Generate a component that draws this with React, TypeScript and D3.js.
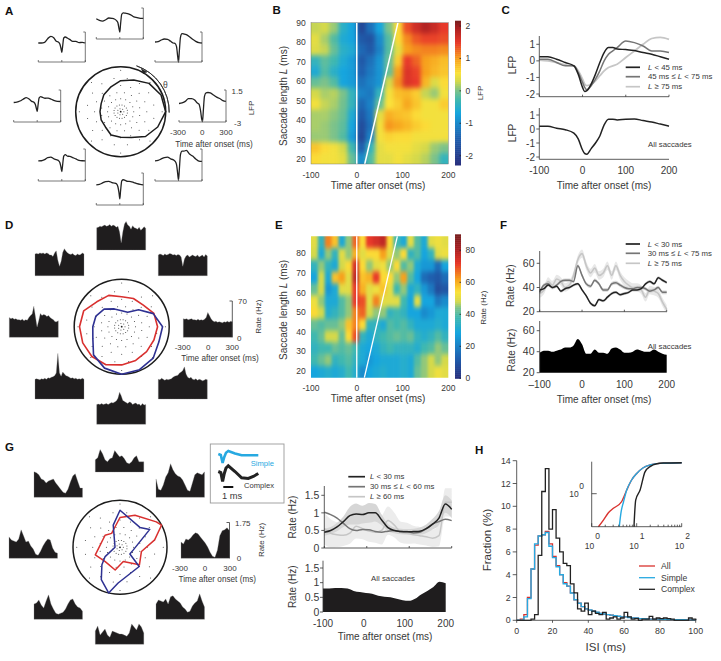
import React from 'react';
import * as d3 from 'd3';

const FONT = '"Liberation Sans", Arial, sans-serif';
const INK = '#383838';

// ---------- shared polar dots ----------
const DOT_RADII = [0.07, 0.15, 0.29, 0.43, 0.58, 0.75, 0.92];
const DOT_COUNTS = [7, 16, 16, 16, 16, 16, 8];
const DIRS16 = [0, 22.5, 45, 67.5, 90, 112.5, 135, 157.5, 180, 202.5, 225, 247.5, 270, 292.5, 315, 337.5];

// ---------- panel A ----------
const LFP_T = [-300, -260, -220, -180, -140, -100, -70, -45, -25, -10, 0, 10, 25, 45, 70, 100, 140, 180, 220, 260, 300];
const LFP_TOP = [-0.05, -0.3, -0.4, -0.2, 0.05, 0, -0.1, -0.3, -0.6, -1.5, -2, -0.8, 0.6, 0.8, 0.75, 0.7, 0.5, 0.2, 0.1, 0, 0];
const LFP_TL = [-0.15, -0.15, -0.05, 0.5, 0.85, 0.6, 0.1, 0.0, -0.3, -1, -1.55, -0.7, 0.6, 0.75, 0.6, 0.4, 0.1, 0.1, -0.1, -0.05, -0.15];
const LFP_TR = [0, 0.05, 0.3, 0.45, 0.4, 0.1, -0.15, -0.2, -0.7, -2.2, -3, -1.5, 0.7, 1.25, 1.2, 1.1, 0.8, 0.4, 0.1, -0.1, -0.15];
const LFP_L = [-0.26, -0.2, -0.05, 0.2, 0.43, 0.2, -0.1, -0.2, -0.5, -1.1, -1.5, -0.7, 0.4, 0.57, 0.45, 0.34, 0.35, 0.2, 0, -0.1, -0.12];
const LFP_R = [-0.4, -0.3, -0.1, 0.3, 0.3, 0.1, -0.3, -0.5, -1.4, -2.6, -2.95, -1.5, 0.6, 1.1, 1.15, 1.1, 0.8, 0.5, 0.3, 0, -0.1];
const LFP_BL = [-0.16, -0.15, 0, 0.3, 0.36, 0.1, 0, -0.1, -0.4, -1.1, -1.67, -0.8, 0.5, 0.7, 0.5, 0.46, 0.3, 0.1, -0.1, -0.15, -0.16];
const LFP_BR = [-0.16, -0.1, 0.1, 0.3, 0.36, 0.1, 0, -0.2, -0.7, -2, -2.85, -1.5, 0.7, 1.2, 1.2, 1.3, 0.8, 0.5, 0.1, -0.2, -0.25];
const LFP_B = [-0.16, -0.1, 0.1, 0.3, 0.32, 0.15, 0.08, 0, -0.4, -1.3, -2.15, -1, 0.4, 0.55, 0.45, 0.32, 0.3, 0.15, 0, -0.1, -0.16];
const A_RADII = [1, 0.97, 0.89, 0.76, 0.69, 0.59, 0.53, 0.47, 0.46, 0.47, 0.48, 0.56, 0.57, 0.62, 0.78, 0.89];

// ---------- panel B ----------
const B_COLS = [-90, -70, -50, -30, -10, 10, 30, 50, 70, 90, 110, 130, 150, 170, 190];
const B_ROWS = [88, 82, 76, 70, 64, 58, 52, 46, 40, 34, 28, 22, 18];
const B_GRID = [
  [0.25, 0.3, 0.1, -0.5, -0.7, -1.9, -1.3, -0.7, 0.0, 0.6, 1.4, 1.7, 1.9, 1.75, 1.5],
  [0.4, 0.15, -0.2, -0.6, -0.7, -1.6, -1.7, -1.0, -0.2, 0.6, 1.1, 1.35, 1.45, 1.45, 1.4],
  [0.35, 0.25, -0.1, -0.5, -0.6, -1.4, -1.6, -1.1, -0.2, 0.4, 1.0, 1.1, 1.15, 1.15, 1.1],
  [-0.4, -0.15, -0.3, -0.6, -0.8, -1.6, -1.3, -0.9, -0.1, 0.7, 1.5, 1.3, 1.0, 0.9, 0.8],
  [-0.6, -0.2, -0.5, -0.7, -0.8, -1.5, -1.2, -0.9, -0.1, 1.0, 1.6, 1.45, 1.0, 0.85, 0.75],
  [-0.1, 0.0, -0.2, -0.7, -0.8, -1.3, -1.1, -0.9, 0.3, 1.1, 1.6, 1.5, 0.85, 0.35, 0.6],
  [0.3, 0.15, 0.2, 0.0, -0.4, -1.1, -1.2, -0.4, 0.5, 0.8, 0.85, 0.7, 0.25, 0.1, 0.5],
  [0.5, 0.25, 0.15, -0.05, -0.4, -1.4, -1.1, -0.1, 0.55, 0.7, 0.95, 0.75, 0.5, 0.5, 0.7],
  [0.15, 0.15, 0.05, -0.1, -0.6, -1.6, -1.2, 0.4, 0.9, 0.8, 0.75, 0.6, 0.5, 0.5, 0.5],
  [0.15, 0.1, 0.0, -0.15, -0.7, -1.8, -1.3, 0.5, 1.05, 0.95, 0.85, 0.7, 0.6, 0.5, 0.5],
  [0.1, 0.1, 0.0, -0.2, -0.8, -1.9, -1.1, 0.5, 0.65, 0.6, 0.6, 0.5, 0.5, 0.5, 0.5],
  [0.75, 0.6, 0.5, 0.3, -0.3, -1.5, -0.4, 0.4, 0.5, 0.5, 0.5, 0.4, 0.3, 0.1, 0.0],
  [0.6, 0.5, 0.5, 0.4, -0.1, -1.0, -0.2, 0.4, 0.4, 0.5, 0.4, 0.3, 0.2, 0.0, -0.4],
];
const B_STOPS = [-2.3, -1.5, -0.7, -0.3, 0, 0.3, 0.55, 1, 1.5, 2, 2.17];
const JET = ['#27307f', '#1f5fae', '#16a5de', '#3fb8b0', '#7cc28a', '#d5d94a', '#fbe23a', '#f7a11c', '#e8392a', '#a51f22', '#7a1f1f'];
const B_BAR_TICKS = [2, 1, 0, -1, -2];

// ---------- panel C ----------
const C_T = [-100, -80, -60, -40, -20, -10, 0, 5, 10, 20, 30, 40, 50, 60, 70, 80, 100, 120, 140, 160, 180, 200];
const C_SHORT = [0.25, 0.25, 0.1, -0.1, -0.3, -0.8, -1.6, -1.85, -1.8, -1.4, -0.8, -0.1, 0.5, 0.8, 0.8, 0.72, 0.68, 0.62, 0.5, 0.4, 0.25, 0.1];
const C_MID = [0.1, 0.1, -0.1, -0.3, -0.3, -0.7, -1.3, -1.6, -1.75, -1.5, -1.1, -0.6, 0, 0.4, 0.6, 0.8, 1.2, 1.1, 0.9, 0.6, 0.6, 0.5];
const C_LONG = [0.05, 0, -0.1, -0.25, -0.3, -0.6, -1.1, -1.4, -1.5, -1.4, -1.2, -0.9, -0.6, -0.4, -0.3, -0.2, 0.2, 0.6, 1.0, 1.35, 1.42, 1.3];
const C_ALL = [0.2, 0.2, 0.05, -0.05, -0.3, -0.7, -1.5, -1.75, -1.8, -1.4, -1, -0.5, 0.3, 0.7, 0.7, 0.65, 0.7, 0.72, 0.6, 0.5, 0.35, 0.2];
const C_LEGEND = ['L < 45 ms', '45 ms ≤ L < 75 ms', 'L ≥ 75 ms'];

// ---------- panel D ----------
const PSTH_D_TOP = [43, 44, 46, 45, 47, 48, 46, 47, 49, 46, 48, 47, 44, 46, 35, 14, 35, 50, 55, 48, 46, 40, 47, 43, 42, 40, 44, 38, 41, 45, 42];
const PSTH_D_TL = [42, 43, 42, 44, 43, 44, 42, 44, 43, 40, 40, 37, 44, 48, 30, 18, 28, 45, 52, 47, 44, 42, 41, 43, 40, 39, 42, 40, 41, 44, 42];
const PSTH_D_TR = [40, 42, 41, 39, 42, 40, 41, 43, 42, 40, 41, 39, 41, 40, 36, 18, 32, 38, 40, 36, 38, 40, 38, 37, 40, 36, 38, 40, 36, 41, 38];
const PSTH_D_L = [38, 36, 37, 35, 36, 34, 34, 33, 35, 32, 34, 33, 38, 42, 45, 60, 40, 20, 32, 46, 42, 44, 43, 40, 42, 38, 36, 34, 30, 30, 32];
const PSTH_D_R = [36, 35, 36, 34, 35, 36, 34, 34, 33, 35, 33, 34, 33, 35, 38, 48, 42, 36, 32, 30, 31, 29, 30, 29, 28, 30, 29, 31, 29, 31, 30];
const PSTH_D_BL = [38, 39, 38, 37, 39, 38, 40, 38, 41, 40, 42, 43, 45, 50, 88, 50, 44, 52, 48, 45, 44, 42, 40, 41, 39, 40, 38, 39, 38, 40, 38];
const PSTH_D_BR = [38, 37, 40, 38, 36, 38, 37, 38, 39, 42, 44, 45, 46, 50, 52, 55, 62, 48, 42, 40, 42, 38, 37, 39, 36, 38, 37, 35, 36, 38, 37];
const PSTH_D_B = [38, 39, 38, 40, 38, 39, 40, 38, 40, 42, 41, 43, 45, 50, 62, 55, 46, 44, 42, 40, 43, 42, 38, 40, 41, 38, 39, 36, 40, 37, 38];
const D_RED = [108, 105, 92, 92, 90, 102, 106, 124, 127, 127, 127, 124, 115, 110, 106, 105];
const D_BLUE = [123, 103, 72, 47, 48, 58, 75, 84, 87, 94, 120, 135, 143, 140, 134, 121];

// ---------- panel E ----------
const E_COLS = [-92.5, -77.5, -62.5, -47.5, -32.5, -17.5, -2.5, 12.5, 27.5, 42.5, 57.5, 72.5, 87.5, 102.5, 117.5, 132.5, 147.5, 162.5, 177.5, 192.5];
const E_ROWS = [86, 80, 74, 68, 62, 56, 50, 44, 38, 32, 26, 20];
const E_GRID = [
  [50, 35, 65, 58, 30, 45, 68, 55, 72, 75, 78, 55, 38, 30, 50, 40, 30, 50, 52, 50],
  [48, 30, 45, 35, 50, 45, 60, 50, 55, 55, 62, 50, 45, 55, 35, 40, 28, 35, 50, 52],
  [35, 45, 35, 30, 48, 55, 75, 55, 45, 50, 52, 45, 55, 40, 45, 30, 25, 25, 15, 28],
  [28, 48, 30, 58, 62, 50, 78, 58, 60, 72, 55, 55, 45, 62, 40, 28, 15, 12, 10, 15],
  [42, 48, 25, 30, 50, 50, 72, 60, 50, 52, 58, 50, 38, 45, 30, 35, 25, 18, 8, 10],
  [52, 45, 30, 30, 40, 45, 72, 70, 50, 65, 50, 50, 50, 38, 28, 50, 28, 28, 18, 22],
  [55, 48, 32, 35, 40, 45, 65, 68, 48, 45, 45, 35, 38, 35, 28, 28, 22, 25, 30, 30],
  [42, 40, 42, 42, 45, 58, 65, 55, 35, 35, 30, 40, 38, 40, 35, 30, 30, 30, 32, 30],
  [38, 42, 48, 48, 42, 55, 70, 35, 30, 35, 38, 40, 42, 40, 42, 35, 32, 35, 40, 35],
  [35, 38, 38, 42, 40, 42, 38, 30, 28, 30, 35, 38, 35, 35, 35, 32, 38, 40, 45, 42],
  [38, 42, 45, 35, 38, 40, 35, 30, 25, 28, 30, 30, 30, 32, 30, 40, 45, 48, 45, 48],
  [28, 30, 32, 30, 32, 38, 32, 22, 28, 30, 32, 30, 30, 32, 30, 42, 45, 48, 52, 50],
];
const E_STOPS = [0, 12, 28, 38, 44, 48, 54, 62, 72, 82, 90];
const E_BAR_TICKS = [80, 60, 40, 20, 0];

// ---------- panel F ----------
const F_T = [-100, -90, -80, -70, -60, -50, -40, -30, -20, -10, 0, 10, 20, 30, 40, 50, 60, 70, 80, 90, 100, 110, 120, 130, 140, 150, 160, 170, 180, 190, 200];
const F_SHORT = [38, 39, 42, 40, 41, 37, 39, 40, 42, 43, 38, 33, 27, 25, 30, 29, 32, 35, 36, 34, 35, 36, 38, 38, 39, 43, 45, 43, 48, 46, 44];
const F_MID = [36, 42, 43, 40, 42, 45, 46, 46, 45, 58, 50, 43, 41, 46, 43, 38, 38, 43, 44, 42, 40, 39, 39, 40, 40, 39, 37, 38, 40, 36, 36];
const F_LONG = [35, 38, 45, 42, 47, 45, 40, 42, 50, 63, 68, 58, 52, 56, 50, 52, 58, 50, 58, 50, 45, 42, 40, 40, 38, 32, 38, 37, 35, 28, 22];
const F_ALL = [39, 41, 41, 40, 41, 42, 44, 44, 46, 52, 47, 38, 38, 42, 39, 39, 38, 43, 44, 42, 39, 39, 40, 42, 41, 40, 40, 42, 40, 38, 37];
const F_LEGEND = ['L < 30 ms', '30 ms ≤ L < 75 ms', 'L ≥ 75 ms'];

// ---------- panel G ----------
const PSTH_G_TOP = [0.6, 0.7, 1.1, 0.9, 0.6, 0.5, 0.65, 0.7, 1.05, 0.9, 0.75, 0.8, 0.65, 0.45, 0.4, 0.5, 0.7, 0.8, 0.5, 0.5, 0.5];
const PSTH_G_TL = [1.25, 1.2, 1.1, 0.9, 0.85, 0.7, 0.8, 0.85, 0.9, 0.7, 0.55, 0.4, 0.25, 0.2, 0.4, 0.75, 1.05, 1.15, 0.8, 0.45, 0.45];
const PSTH_G_TR = [0.9, 0.4, 0.35, 0.6, 1, 1.2, 1.65, 1.35, 1.15, 1.05, 1, 0.85, 0.6, 0.35, 0.3, 0.7, 1.1, 1.2, 1.15, 1.1, 1.25];
const PSTH_G_L = [1.05, 0.9, 0.85, 0.8, 0.95, 1.4, 1.1, 0.8, 0.85, 0.6, 0.45, 0.2, 0.15, 0.35, 0.6, 0.8, 0.95, 0.9, 0.5, 0.3, 0.25];
const PSTH_G_R = [0.8, 0.7, 0.95, 0.9, 1.0, 1.15, 1.25, 1.2, 1.05, 0.9, 0.75, 0.55, 0.3, 0.1, 0.05, 0.4, 1.1, 1.35, 1.4, 1.5, 1.35];
const PSTH_G_BL = [0.75, 0.8, 0.95, 0.7, 0.55, 0.9, 1.2, 0.75, 0.5, 0.3, 0.25, 0.3, 0.35, 0.5, 0.75, 0.95, 1, 0.75, 0.6, 0.55, 0.4];
const PSTH_G_BR = [0.75, 0.95, 0.9, 0.85, 1, 0.75, 1.1, 1.15, 1.0, 0.9, 0.8, 0.6, 0.5, 0.35, 0.4, 0.65, 0.8, 0.9, 1.25, 0.9, 0.6];
const PSTH_G_B = [0.65, 0.9, 0.45, 0.6, 0.75, 0.45, 0.35, 0.65, 0.6, 0.55, 0.5, 0.5, 0.45, 0.4, 0.55, 1.0, 0.85, 0.7, 1.0, 0.85, 0.55];
const G_RED_DEG = [90, 65, 35, 28, 12, 349, 318, 283, 258, 224, 197, 141, 121, 111];
const G_RED_R = [90, 107, 134, 142, 107, 66, 79, 44, 70, 62, 78, 58, 49, 56];
const G_BLUE_DEG = [90, 45, 31, 349, 326, 315, 267, 256, 240, 224, 212, 180, 107];
const G_BLUE_R = [112, 85, 105, 41, 36, 82, 108, 142, 113, 76, 53, 15, 70];
const WAVE_T = [0, 0.25, 0.43, 0.6, 0.77, 1, 1.67, 2.33, 3, 3.5, 4];
const WAVE_SIMPLE = [1, 0, -8, -2, 2.3, 4, 1.6, -0.3, -0.3, -0.2, -0.2];
const WAVE_COMPLEX = [0, -1, -10, -2, 3.5, 5.7, 0, -6.3, -7, -5, -2];

const G_T = [-100, -85, -70, -55, -40, -25, -10, 5, 20, 35, 50, 65, 80, 95, 110, 125, 140, 155, 170, 185, 200];
const G_SHORT = [0.45, 0.5, 0.6, 0.75, 0.92, 0.97, 0.95, 1.0, 1.0, 0.8, 0.58, 0.5, 0.47, 0.46, 0.47, 0.48, 0.55, 0.68, 0.85, 1.25, 1.1];
const G_MID = [1.02, 0.95, 0.85, 0.7, 0.55, 0.5, 0.53, 0.52, 0.47, 0.45, 0.48, 0.5, 0.47, 0.47, 0.43, 0.45, 0.55, 0.68, 0.75, 0.82, 0.78];
const G_LONG = [0.55, 0.42, 0.38, 0.36, 0.42, 0.62, 0.55, 0.48, 0.45, 0.5, 0.78, 0.65, 0.45, 0.42, 0.38, 0.35, 0.32, 0.28, 0.35, 1.3, 1.3];
const G_LONG_ERR = [0.45, 0.4, 0.35, 0.3, 0.3, 0.35, 0.3, 0.3, 0.3, 0.4, 0.4, 0.35, 0.3, 0.3, 0.25, 0.25, 0.25, 0.25, 0.3, 0.4, 0.4];
const G_SHORT_ERR = [0.1, 0.1, 0.12, 0.15, 0.25, 0.3, 0.25, 0.28, 0.25, 0.15, 0.1, 0.08, 0.08, 0.08, 0.08, 0.1, 0.12, 0.15, 0.2, 0.25, 0.25];
const G_ALL = [0.8, 0.8, 0.82, 0.82, 0.8, 0.72, 0.68, 0.65, 0.62, 0.55, 0.52, 0.5, 0.45, 0.4, 0.38, 0.45, 0.6, 0.72, 0.85, 1.03, 0.98];
const G_LEGEND = ['L < 30 ms', '30 ms ≤ L < 60 ms', 'L ≥ 60 ms'];

// ---------- panel H ----------
const H_BINS = d3.range(0, 102, 2);
const H_COMPLEX = [0, 0, 0, 0, 0.1, 0.5, 5.7, 11.3, 13.3, 8, 9.7, 7.2, 6, 5, 4.8, 3.2, 2.4, 1, 0.8, 1.5, 0.5, 0.8, 0.6, 0.5, 0.7, 0.1, 0.2, 0.3, 0.1, 0.2, 0.7, 0.3, 0.1, 0.15, 0, 0.1, 0.1, 0.35, 0.1, 0.2, 0.15, 0.2, 0.15, 0.1, 0, 0, 0, 0, 0.2, 0.1];
const H_SIMPLE = [0, 0, 0.3, 1.9, 4.5, 6.7, 7.4, 7.5, 7.7, 6.5, 5.5, 4.7, 4, 3.2, 3, 2.4, 1.8, 1.5, 1.2, 1, 0.9, 0.8, 0.7, 0.6, 0.55, 0.5, 0.45, 0.4, 0.35, 0.3, 0.3, 0.25, 0.2, 0.2, 0.15, 0.15, 0.12, 0.1, 0.1, 0.1, 0.08, 0.08, 0.07, 0.06, 0.05, 0.05, 0.05, 0.04, 0.04, 0.03];
const H_ALL = [0, 0.1, 0.5, 2, 4.5, 6.6, 7.4, 7.5, 7.8, 6.7, 5.6, 4.8, 4, 3.3, 3, 2.4, 1.8, 1.5, 1.2, 1, 0.9, 0.8, 0.7, 0.6, 0.55, 0.5, 0.45, 0.4, 0.35, 0.3, 0.3, 0.25, 0.2, 0.2, 0.15, 0.15, 0.12, 0.1, 0.1, 0.1, 0.08, 0.08, 0.07, 0.06, 0.05, 0.05, 0.05, 0.04, 0.04, 0.03];
const CDF_ALL_X = [1.41, 1.82, 2.35, 3.03, 4.6, 6, 7.7, 10, 14, 19.8, 33, 100];
const CDF_ALL_Y = [0.1, 0.159, 0.265, 0.36, 0.57, 1.29, 2.6, 4.1, 6.1, 7.4, 8.3, 8.7];
const CDF_SIMPLE_X = [4.1, 4.5, 5.1, 6, 7.7, 10, 14, 19.8, 33, 100];
const CDF_SIMPLE_Y = [0.1, 0.28, 0.57, 1.29, 2.6, 4.1, 6.1, 7.4, 8.3, 8.7];
const CDF_COMPLEX_X = [8.7, 9.5, 11.9, 15.3, 19.8, 27.8, 39, 100];
const CDF_COMPLEX_Y = [0.1, 0.64, 1.29, 4.6, 6.6, 8.1, 8.5, 8.7];
const LOG_MINOR = [2, 3, 4, 5, 6, 7, 8, 9, 20, 30, 40, 50, 60, 70, 80, 90];
const H_LEGEND = ['All', 'Simple', 'Complex'];
const H_COLORS = ['#d9322e', '#27a9e1', '#222222'];

const SERIES_GRAY = ['#222222', '#757575', '#c6c6c6'];

// ---------- helpers ----------
type TP = { x: number; y: number; s?: number; a?: 'start' | 'middle' | 'end'; rot?: boolean; fill?: string; w?: number; children: React.ReactNode };
const T = ({ x, y, s = 9, a = 'start', rot, fill = INK, w, children }: TP) => (
  <text x={x} y={y} dy=".35em" fontSize={s} textAnchor={a} fill={fill} fontWeight={w} fontFamily={FONT}
    transform={rot ? `rotate(-90 ${x} ${y})` : undefined}>{children}</text>
);
const italL = (str: string) => {
  const i = str.indexOf('L');
  if (i < 0) return str;
  return <>{str.slice(0, i)}<tspan fontStyle="italic">L</tspan>{str.slice(i + 1)}</>;
};
const Rule = ({ x1, y1, x2, y2, c = '#333', sw = 0.8 }: any) => <line x1={x1} y1={y1} x2={x2} y2={y2} stroke={c} strokeWidth={sw} />;
const XT = ({ scale, ticks, y, labels, s = 10 }: any) => (
  <>{ticks.map((t: number, i: number) => <T key={t} x={scale(t)} y={y} a="middle" s={s}>{labels ? labels[i] : t}</T>)}</>
);
const YAxis = ({ scale, ticks, x, top, bottom, labelX, s = 10, labels }: any) => (
  <g>
    <Rule x1={x} x2={x} y1={top} y2={bottom} />
    {ticks.map((t: number) => <Rule key={t} x1={x - 3} x2={x} y1={scale(t)} y2={scale(t)} />)}
    {ticks.map((t: number, i: number) => <T key={t} x={labelX} y={scale(t)} a="end" s={s}>{labels ? labels[i] : t}</T>)}
  </g>
);
const series = (xs: number[], ys: number[]) => xs.map((x, i) => [x, ys[i]] as [number, number]);

const PolarFrame = ({ cx, cy, R }: { cx: number; cy: number; R: number }) => {
  const dots: [number, number][] = [];
  DOT_RADII.forEach((r, i) => {
    d3.range(DOT_COUNTS[i]).forEach(k => {
      const a = (k / DOT_COUNTS[i]) * 2 * Math.PI + (i % 2 ? 0.2 : 0);
      dots.push([cx + r * R * Math.cos(a), cy - r * R * Math.sin(a)]);
    });
  });
  return (
    <g>
      <circle cx={cx} cy={cy} r={R} fill="none" stroke="#1c1c1c" strokeWidth={1.5} />
      {dots.map((d, i) => <circle key={i} cx={d[0]} cy={d[1]} r={0.5} fill="#333" />)}
      <circle cx={cx} cy={cy} r={0.9} fill="#222" />
    </g>
  );
};
const PolarCurve = ({ cx, cy, deg, rad, max, R, color, sw = 1.5 }: any) => {
  const r = d3.scaleLinear().domain([0, max]).range([0, R]);
  const gen = d3.lineRadial<number>()
    .angle((_, i) => ((90 - deg[i]) * Math.PI) / 180)
    .radius(d => r(d))
    .curve(d3.curveLinearClosed);
  return <path d={gen(rad) || ''} transform={`translate(${cx},${cy})`} fill="none" stroke={color} strokeWidth={sw} strokeLinejoin="round" />;
};

const LfpInset = ({ x, bottom, top, vals, w = 47 }: any) => {
  const sx = d3.scaleLinear().domain([-300, 300]).range([x, x + w]);
  const sy = d3.scaleLinear().domain([-3, 1.5]).range([bottom, top]);
  const line = d3.line().x(d => sx(d[0])).y(d => sy(d[1])).curve(d3.curveMonotoneX);
  return (
    <g>
      <path d={line(series(LFP_T, vals)) || ''} fill="none" stroke="#222" strokeWidth={1.3} />
      <Rule x1={x} x2={x + w} y1={bottom} y2={bottom} c="#555" />
      <Rule x1={x + w} x2={x + w} y1={top} y2={bottom} c="#555" />
      <Rule x1={x + w - 2} x2={x + w} y1={top} y2={top} c="#555" />
      {[-300, 0, 300].map(t => <Rule key={t} x1={sx(t)} x2={sx(t)} y1={bottom} y2={bottom - 2} c="#555" />)}
    </g>
  );
};
const PsthInset = ({ x, base, vals, max, h, w = 49 }: any) => {
  const sx = d3.scaleLinear().domain([0, vals.length - 1]).range([x, x + w]);
  const sy = d3.scaleLinear().domain([0, max]).range([base, base - h]);
  const area = d3.area<number>().x((_, i) => sx(i)).y0(base).y1(d => sy(d));
  return <path d={area(vals) || ''} fill="#1f1d1e" stroke="#888" strokeWidth={0.3} />;
};
const Heat = ({ id, x0, x1, y0, y1, cols, rows, grid, color, blur }: any) => {
  const bx = d3.scaleBand<number>().domain(cols).range([x0, x1]);
  const by = d3.scaleBand<number>().domain(rows).range([y0, y1]);
  const pad = 14;
  return (
    <g clipPath={`url(#clip${id})`}>
      <defs>
        <clipPath id={`clip${id}`}><rect x={x0} y={y0} width={x1 - x0} height={y1 - y0} /></clipPath>
        <filter id={`blur${id}`} filterUnits="userSpaceOnUse" x={x0 - 20} y={y0 - 20} width={x1 - x0 + 40} height={y1 - y0 + 40} colorInterpolationFilters="sRGB">
          <feGaussianBlur stdDeviation={blur} />
        </filter>
      </defs>
      <g filter={`url(#blur${id})`}>
        {rows.map((r: number, ri: number) => cols.map((c: number, ci: number) => {
          const l = bx(c)! - (ci === 0 ? pad : 0);
          const t = by(r)! - (ri === 0 ? pad : 0);
          const ww = bx.bandwidth() + (ci === 0 || ci === cols.length - 1 ? pad : 0) + 0.5;
          const hh = by.bandwidth() + (ri === 0 || ri === rows.length - 1 ? pad : 0) + 0.5;
          return <rect key={`${r}-${c}`} x={l} y={t} width={ww} height={hh} fill={color(grid[ri][ci])} />;
        }))}
      </g>
    </g>
  );
};
const ColorBar = ({ x, w, top, bottom, stops, colors, ticks, scale, labelX }: any) => {
  const c = d3.scaleLinear<string>().domain(stops).range(colors).interpolate(d3.interpolateRgb);
  const samples = d3.range(0, 73);
  const d = d3.scaleLinear().domain([0, 72]).range([stops[stops.length - 1], stops[0]]);
  const py = d3.scaleLinear().domain([0, 73]).range([top, bottom]);
  return (
    <g>
      {samples.map(i => <rect key={i} x={x} y={py(i)} width={w} height={py(1) - py(0) + 0.5} fill={c(d(i))} />)}
      {ticks.map((t: number) => <Rule key={t} x1={x + w - 1.5} x2={x + w} y1={scale(t)} y2={scale(t)} c="#222" />)}
      {ticks.map((t: number) => <T key={t} x={labelX} y={scale(t)} s={8.5}>{t}</T>)}
    </g>
  );
};
const Legend = ({ items, colors, x1, x2, tx, ys, s = 8.3, sw = 1.7 }: any) => (
  <g>
    {items.map((it: string, i: number) => (
      <g key={it}>
        <Rule x1={x1} x2={x2} y1={ys[i]} y2={ys[i]} c={colors[i]} sw={sw} />
        <T x={tx} y={ys[i]} s={s}>{italL(it)}</T>
      </g>
    ))}
  </g>
);
const Path = ({ pts, gen, c, sw = 1.5 }: any) => <path d={gen(pts) || ''} fill="none" stroke={c} strokeWidth={sw} />;

// ---------- panels ----------
const PanelA = () => {
  const cx = 120.7, cy = 111.7, R = 45;
  const arc = d3.arc();
  const arcPath = arc({ innerRadius: 48.5, outerRadius: 48.5, startAngle: (19 * Math.PI) / 180, endAngle: (91 * Math.PI) / 180 }) || '';
  return (
    <g>
      <PolarFrame cx={cx} cy={cy} R={R} />
      <PolarCurve cx={cx} cy={cy} deg={DIRS16} rad={A_RADII} max={1} R={R} color="#1c1c1c" />
      <path d={arcPath} transform={`translate(${cx},${cy})`} fill="none" stroke="#333" strokeWidth={0.9} />
      <path d={d3.line()([[141, 67.5], [147, 71], [143, 72.5]]) || ''} fill="#222" stroke="#222" strokeWidth={0.5} transform="translate(0,1)" />
      <T x={163} y={85} s={8.5} fill="#444">θ</T>
      <LfpInset x={96.3} top={8} bottom={39} vals={LFP_TOP} />
      <LfpInset x={38.3} top={32} bottom={62} vals={LFP_TL} />
      <LfpInset x={155} top={32} bottom={62} vals={LFP_TR} />
      <LfpInset x={13.7} top={90} bottom={122} vals={LFP_L} />
      <LfpInset x={179} top={90} bottom={122} vals={LFP_R} />
      <LfpInset x={38.3} top={149} bottom={181} vals={LFP_BL} />
      <LfpInset x={155} top={149} bottom={181} vals={LFP_BR} />
      <LfpInset x={96.3} top={173} bottom={205} vals={LFP_B} />
      <T x={231.5} y={91.5} s={8}>1.5</T>
      <T x={234} y={122.7} s={8}>-3</T>
      <T x={178} y={131.7} s={8} a="middle">-300</T>
      <T x={202.3} y={131.7} s={8} a="middle">0</T>
      <T x={226} y={131.7} s={8} a="middle">300</T>
      <T x={214} y={144.3} s={8.2} a="middle">Time after onset (ms)</T>
      <T x={251.7} y={108} s={8} a="middle" rot>LFP</T>
    </g>
  );
};

const PanelB = () => {
  const x = d3.scaleLinear().domain([-100, 200]).range([311, 448.3]);
  const y = d3.scaleLinear().domain([20, 90]).range([159, 22.7]);
  const c = d3.scaleLinear<string>().domain(B_STOPS).range(JET).interpolate(d3.interpolateRgb);
  const barY = d3.scaleLinear().domain([-2, 2]).range([155.7, 26]);
  const bottomL = y.invert(164);
  return (
    <g>
      <Heat id="B" x0={311} x1={448.3} y0={22.7} y1={164} cols={B_COLS} rows={B_ROWS} grid={B_GRID} color={c} blur={[2.2, 2.8]} />
      <Rule x1={x(0)} x2={x(0)} y1={22.7} y2={164} c="#fff" sw={1.5} />
      <Rule x1={x(bottomL)} x2={x(90)} y1={164} y2={y(90)} c="#fff" sw={1.5} />
      <rect x={311} y={22.7} width={137.3} height={141.3} fill="none" stroke="#666" strokeWidth={0.4} />
      <ColorBar x={455} w={6} top={20.7} bottom={165} stops={B_STOPS} colors={JET} ticks={B_BAR_TICKS} scale={barY} labelX={465.5} />
      <T x={480} y={93} s={8} a="middle" rot>LFP</T>
      {[90, 80, 70, 60, 50, 40, 30, 20].map(t => <T key={t} x={305.7} y={y(t)} a="end" s={8.5}>{t}</T>)}
      <XT scale={x} ticks={[-100, 0, 100, 200]} y={175} s={8.5} />
      <T x={378} y={185.7} s={10} a="middle">Time after onset (ms)</T>
      <T x={283} y={96} s={10} a="middle" rot>Saccade length  <tspan fontStyle="italic">L</tspan> (ms)</T>
    </g>
  );
};

const PanelC = () => {
  const x = d3.scaleLinear().domain([-100, 200]).range([539.3, 669]);
  const y1 = d3.scaleLinear().domain([-2, 1]).range([94, 44.3]);
  const y2 = d3.scaleLinear().domain([-2, 1]).range([157, 115]);
  const l1 = d3.line().x(d => x(d[0])).y(d => y1(d[1])).curve(d3.curveMonotoneX);
  const l2 = d3.line().x(d => x(d[0])).y(d => y2(d[1])).curve(d3.curveMonotoneX);
  const axisTicks = [-100, 0, 100, 200];
  return (
    <g>
      <Path pts={series(C_T, C_LONG)} gen={l1} c={SERIES_GRAY[2]} sw={1.8} />
      <Path pts={series(C_T, C_MID)} gen={l1} c={SERIES_GRAY[1]} />
      <Path pts={series(C_T, C_SHORT)} gen={l1} c={SERIES_GRAY[0]} />
      <YAxis scale={y1} ticks={[1, 0, -1, -2]} x={539.3} top={36} bottom={96.7} labelX={535} s={10} />
      <Rule x1={539.3} x2={669} y1={96.7} y2={96.7} />
      {axisTicks.map(t => <Rule key={t} x1={x(t)} x2={x(t)} y1={96.7} y2={94.7} />)}
      <Path pts={series(C_T, C_ALL)} gen={l2} c="#222" />
      <YAxis scale={y2} ticks={[1, 0, -1, -2]} x={539.3} top={108} bottom={159.3} labelX={535} s={10} />
      <Rule x1={539.3} x2={669} y1={159.3} y2={159.3} />
      <XT scale={x} ticks={axisTicks} y={170} s={10} />
      <T x={604} y={185.7} s={10} a="middle">Time after onset (ms)</T>
      <T x={512.3} y={65} s={10} a="middle" rot>LFP</T>
      <T x={512.3} y={133} s={10} a="middle" rot>LFP</T>
      <Legend items={C_LEGEND} colors={SERIES_GRAY} x1={625.7} x2={640} tx={648} ys={[67.3, 76.7, 86.7]} s={7.8} />
      <T x={648} y={144} s={7.8}>All saccades</T>
    </g>
  );
};

const PanelD = () => {
  const cx = 121.7, cy = 326.7, R = 47.5, H = 36.3;
  return (
    <g>
      <PolarFrame cx={cx} cy={cy} R={R} />
      <PolarCurve cx={cx} cy={cy} deg={DIRS16} rad={D_RED} max={143} R={R} color="#d9302f" sw={1.6} />
      <PolarCurve cx={cx} cy={cy} deg={DIRS16} rad={D_BLUE} max={143} R={R} color="#2e3192" sw={1.6} />
      <PsthInset x={96.7} base={250} vals={PSTH_D_TOP} max={70} h={H} />
      <PsthInset x={35} base={275.7} vals={PSTH_D_TL} max={70} h={H} />
      <PsthInset x={158.3} base={275.7} vals={PSTH_D_TR} max={70} h={H} />
      <PsthInset x={9.3} base={337.3} vals={PSTH_D_L} max={70} h={H} />
      <PsthInset x={183.3} base={337.3} vals={PSTH_D_R} max={70} h={H} />
      <PsthInset x={35} base={399} vals={PSTH_D_BL} max={70} h={H} />
      <PsthInset x={158.3} base={399} vals={PSTH_D_BR} max={70} h={H} />
      <PsthInset x={96.7} base={424.3} vals={PSTH_D_B} max={70} h={H} />
      <Rule x1={232.3} x2={232.3} y1={301} y2={337.3} />
      <Rule x1={229.5} x2={232.3} y1={301} y2={301} />
      <T x={238} y={301} s={8}>70</T>
      <T x={237} y={337.7} s={8}>0</T>
      <T x={182.7} y={347.3} s={8} a="middle">-300</T>
      <T x={208.3} y={347.3} s={8} a="middle">0</T>
      <T x={232.3} y={347.3} s={8} a="middle">300</T>
      <T x={220} y={358.3} s={8.2} a="middle">Time after onset (ms)</T>
      <T x={258} y={316.7} s={8} a="middle" rot>Rate (Hz)</T>
    </g>
  );
};

const PanelE = () => {
  const x = d3.scaleLinear().domain([-100, 200]).range([311, 448.3]);
  const y = d3.scaleLinear().domain([20, 80]).range([371, 253.3]);
  const c = d3.scaleLinear<string>().domain(E_STOPS).range(JET).interpolate(d3.interpolateRgb);
  const barY = d3.scaleLinear().domain([0, 90]).range([378.3, 234.3]);
  const topL = y.invert(236.3), botL = y.invert(377.7);
  return (
    <g>
      <Heat id="E" x0={311} x1={448.3} y0={236.3} y1={377.7} cols={E_COLS} rows={E_ROWS} grid={E_GRID} color={c} blur={[1.7, 2.6]} />
      <Rule x1={x(0)} x2={x(0)} y1={236.3} y2={377.7} c="#fff" sw={1.3} />
      <Rule x1={x(botL)} x2={x(topL)} y1={377.7} y2={236.3} c="#fff" sw={1.3} />
      <ColorBar x={455} w={6} top={234.3} bottom={378.3} stops={E_STOPS} colors={JET} ticks={E_BAR_TICKS} scale={barY} labelX={465.5} />
      <T x={483.3} y={307.7} s={8} a="middle" rot>Rate (Hz)</T>
      {[80, 70, 60, 50, 40, 30, 20].map(t => <T key={t} x={305.7} y={y(t)} a="end" s={8.5}>{t}</T>)}
      <XT scale={x} ticks={[-100, 0, 100, 200]} y={388} s={8.5} />
      <T x={378} y={398.5} s={10} a="middle">Time after onset (ms)</T>
      <T x={283} y={310} s={10} a="middle" rot>Saccade length  <tspan fontStyle="italic">L</tspan> (ms)</T>
    </g>
  );
};

const PanelF = () => {
  const x = d3.scaleLinear().domain([-100, 200]).range([539.7, 666.7]);
  const y1 = d3.scaleLinear().domain([20, 60]).range([311.7, 263.3]);
  const y2 = d3.scaleLinear().domain([20, 60]).range([372.7, 330.7]);
  const l = d3.line().x(d => x(d[0])).y(d => y1(d[1])).curve(d3.curveMonotoneX);
  const band = (v: number[], e: number) => d3.area<number>().x((_, i) => x(F_T[i])).y0(d => y1(d - e)).y1(d => y1(d + e)).curve(d3.curveMonotoneX)(v) || '';
  const fill = d3.area<number>().x((_, i) => x(F_T[i])).y0(y2(20)).y1(d => y2(d)).curve(d3.curveMonotoneX);
  return (
    <g>
      <path d={band(F_LONG, 3.5)} fill="#e8e8e8" />
      <path d={band(F_MID, 1.5)} fill="#d8d8d8" />
      <path d={band(F_SHORT, 1.2)} fill="#cfcfcf" />
      <Path pts={series(F_T, F_LONG)} gen={l} c={SERIES_GRAY[2]} sw={1.6} />
      <Path pts={series(F_T, F_MID)} gen={l} c={SERIES_GRAY[1]} />
      <Path pts={series(F_T, F_SHORT)} gen={l} c={SERIES_GRAY[0]} />
      <YAxis scale={y1} ticks={[60, 40, 20]} x={539.7} top={251} bottom={311.7} labelX={534.5} s={10.5} />
      <Rule x1={539.7} x2={666.7} y1={311.7} y2={311.7} />
      {[-100, 0, 100, 200].map(t => <Rule key={t} x1={x(t)} x2={x(t)} y1={311.7} y2={309.7} />)}
      <path d={fill(F_ALL) || ''} fill="#000" />
      <YAxis scale={y2} ticks={[60, 40, 20]} x={539.7} top={321} bottom={372.7} labelX={534.5} s={10.5} />
      <XT scale={x} ticks={[-100, 0, 100, 200]} labels={['–100', '0', '100', '200']} y={384} s={10} />
      <T x={604} y={399} s={10} a="middle">Time after onset (ms)</T>
      <T x={511} y={285.7} s={10} a="middle" rot>Rate (Hz)</T>
      <T x={511} y={350} s={10} a="middle" rot>Rate (Hz)</T>
      <Legend items={F_LEGEND} colors={SERIES_GRAY} x1={625.7} x2={640} tx={647.7} ys={[244, 253.3, 263.3]} s={7.8} />
      <T x={647.7} y={346.3} s={7.8}>All saccades</T>
    </g>
  );
};

const PanelG = () => {
  const cx = 120, cy = 547.3, R = 47, H = 35.7;
  const wx = d3.scaleLinear().domain([0, 4]).range([218.3, 258.3]);
  const wy = d3.scaleLinear().domain([0, 10]).range([0, -10]);
  const wline = d3.line().x(d => wx(d[0])).y(d => wy(d[1])).curve(d3.curveLinear);
  const x1 = d3.scaleLinear().domain([-100, 200]).range([324.3, 451.7]);
  const y1 = d3.scaleLinear().domain([0, 1.5]).range([548, 495.3]);
  const x2 = d3.scaleLinear().domain([-100, 200]).range([323, 445.7]);
  const y2 = d3.scaleLinear().domain([0, 1.5]).range([612, 568]);
  const l = d3.line().x(d => x1(d[0])).y(d => y1(d[1])).curve(d3.curveMonotoneX);
  const band = (v: number[], e: number[]) => d3.area<number>().x((_, i) => x1(G_T[i])).y0((d, i) => y1(Math.max(0, d - e[i]))).y1((d, i) => y1(d + e[i])).curve(d3.curveMonotoneX)(v) || '';
  const fill = d3.area<number>().x((_, i) => x2(G_T[i])).y0(y2(0)).y1(d => y2(d)).curve(d3.curveMonotoneX);
  return (
    <g>
      <PolarFrame cx={cx} cy={cy} R={R} />
      <PolarCurve cx={cx} cy={cy} deg={G_RED_DEG} rad={G_RED_R} max={142} R={R} color="#d9302f" sw={1.5} />
      <PolarCurve cx={cx} cy={cy} deg={G_BLUE_DEG} rad={G_BLUE_R} max={142} R={R} color="#2e3192" sw={1.5} />
      <PsthInset x={95.3} base={472} vals={PSTH_G_TOP} max={1.75} h={H} w={48.5} />
      <PsthInset x={34} base={497.3} vals={PSTH_G_TL} max={1.75} h={H} w={48.5} />
      <PsthInset x={156} base={497.3} vals={PSTH_G_TR} max={1.75} h={H} w={48.5} />
      <PsthInset x={9} base={558.3} vals={PSTH_G_L} max={1.75} h={H} w={48.5} />
      <PsthInset x={181} base={558.3} vals={PSTH_G_R} max={1.75} h={H} w={48.5} />
      <PsthInset x={34} base={619.3} vals={PSTH_G_BL} max={1.75} h={H} w={48.5} />
      <PsthInset x={156} base={619.3} vals={PSTH_G_BR} max={1.75} h={H} w={48.5} />
      <PsthInset x={95.3} base={644.3} vals={PSTH_G_B} max={1.75} h={H} w={48.5} />
      <Rule x1={229.5} x2={229.5} y1={522.5} y2={558.3} />
      <Rule x1={226.5} x2={229.5} y1={522.5} y2={522.5} />
      <T x={235} y={523.3} s={8}>1.75</T>
      <T x={236.7} y={558.3} s={8}>0</T>
      <T x={180} y={568.3} s={8} a="middle">-300</T>
      <T x={205} y={568.3} s={8} a="middle">0</T>
      <T x={230} y={568.3} s={8} a="middle">300</T>
      <T x={217.3} y={579} s={8.2} a="middle">Time after onset (ms)</T>
      <T x={261.7} y={540} s={8} a="middle" rot>Rate (Hz)</T>

      <rect x={210.3} y={444} width={73.7} height={59} fill="#fff" stroke="#9a9a9a" strokeWidth={0.9} />
      <g transform="translate(0,455)"><Path pts={series(WAVE_T, WAVE_SIMPLE)} gen={wline} c="#27a9e1" sw={2.6} /></g>
      <g transform="translate(0,471.5)"><Path pts={series(WAVE_T, WAVE_COMPLEX)} gen={wline} c="#222" sw={3} /></g>
      <T x={250.7} y={463.5} s={7.6} fill="#27a9e1">Simple</T>
      <T x={244} y={485.7} s={7.6}>Complex</T>
      <Rule x1={223.3} x2={233.3} y1={487} y2={487} c="#111" sw={2} />
      <T x={222} y={495.7} s={9.3}>1 ms</T>

      <path d={band(G_LONG, G_LONG_ERR)} fill="#ececec" />
      <path d={band(G_SHORT, G_SHORT_ERR)} fill="#d6d6d6" />
      <Path pts={series(G_T, G_LONG)} gen={l} c={SERIES_GRAY[2]} />
      <Path pts={series(G_T, G_MID)} gen={l} c={SERIES_GRAY[1]} />
      <Path pts={series(G_T, G_SHORT)} gen={l} c={SERIES_GRAY[0]} />
      <YAxis scale={y1} ticks={[1.5, 1, 0.5, 0]} x={324.3} top={486} bottom={548} labelX={319.3} s={10.5} />
      <Rule x1={324.3} x2={451.7} y1={548} y2={548} />
      {[-100, 0, 100, 200].map(t => <Rule key={t} x1={x1(t)} x2={x1(t)} y1={548} y2={546} />)}
      <path d={fill(G_ALL) || ''} fill="#1f1d1e" />
      <YAxis scale={y2} ticks={[1.5, 1, 0.5, 0]} x={323} top={560.7} bottom={612} labelX={319.3} s={10.5} />
      <XT scale={x2} ticks={[-100, 0, 100, 200]} y={623.3} s={10} />
      <T x={385} y={636.7} s={10} a="middle">Time after onset (ms)</T>
      <T x={292.3} y={517} s={10} a="middle" rot>Rate (Hz)</T>
      <T x={292.3} y={586.7} s={10} a="middle" rot>Rate (Hz)</T>
      <Legend items={G_LEGEND} colors={SERIES_GRAY} x1={348.3} x2={365} tx={370} ys={[476.7, 486.7, 496.7]} s={7.8} />
      <T x={393} y={578.3} s={7.8} a="middle">All saccades</T>
    </g>
  );
};

const PanelH = () => {
  const x = d3.scaleLinear().domain([0, 100]).range([516.7, 695.7]);
  const y = d3.scaleLinear().domain([0, 14]).range([620.3, 460.7]);
  const step = d3.line().x(d => x(d[0])).y(d => y(d[1])).curve(d3.curveStepAfter);
  const hist = (v: number[]) => [...v.map((h, i) => [H_BINS[i], h] as [number, number]), [100, 0] as [number, number]];
  const lx = d3.scaleLog().domain([1, 100]).range([591.7, 681.7]);
  const ly = d3.scaleLog().domain([0.1, 10]).range([526.7, 460.7]);
  const cdf = d3.line().x(d => lx(d[0])).y(d => ly(d[1])).curve(d3.curveMonotoneX);
  const base = y(0);
  return (
    <g>
      <Path pts={hist(H_ALL)} gen={step} c={H_COLORS[0]} sw={1.3} />
      <Path pts={hist(H_SIMPLE)} gen={step} c={H_COLORS[1]} sw={1.4} />
      <Path pts={hist(H_COMPLEX)} gen={step} c={H_COLORS[2]} sw={1.3} />
      <Rule x1={x(0)} x2={x(0)} y1={460.7} y2={base} />
      <Rule x1={x(0)} x2={x(100)} y1={base} y2={base} />
      {d3.range(0, 16, 2).map(t => <Rule key={t} x1={x(0) - 4} x2={x(0)} y1={y(t)} y2={y(t)} />)}
      {d3.range(0, 16, 2).map(t => <T key={t} x={x(0) - 6} y={y(t)} a="end" s={8.8}>{t}</T>)}
      {d3.range(0, 120, 20).map(t => <Rule key={t} x1={x(t)} x2={x(t)} y1={base} y2={base + 2.5} />)}
      <XT scale={x} ticks={d3.range(0, 120, 20)} y={631} s={8.8} />
      <T x={605.7} y={647} s={11.5} a="middle">ISI (ms)</T>
      <T x={486.7} y={540} s={11.5} a="middle" rot>Fraction (%)</T>

      <Path pts={series(CDF_ALL_X, CDF_ALL_Y)} gen={cdf} c={H_COLORS[0]} sw={1.4} />
      <Path pts={series(CDF_SIMPLE_X, CDF_SIMPLE_Y)} gen={cdf} c={H_COLORS[1]} sw={1.4} />
      <Path pts={series(CDF_COMPLEX_X, CDF_COMPLEX_Y)} gen={cdf} c={H_COLORS[2]} sw={1.4} />
      <Rule x1={lx(1)} x2={lx(1)} y1={461.7} y2={526.7} />
      <Rule x1={lx(1)} x2={lx(100)} y1={526.7} y2={526.7} />
      <Rule x1={lx(1)} x2={lx(1) + 5} y1={ly(1)} y2={ly(1)} />
      {LOG_MINOR.map(t => <Rule key={t} x1={lx(t)} x2={lx(t)} y1={526.7} y2={524.7} />)}
      {[1, 10, 100].map(t => <Rule key={t} x1={lx(t)} x2={lx(t)} y1={526.7} y2={523.2} />)}
      <T x={574} y={494} s={8.5} a="middle">10</T>
      <T x={581.5} y={486} s={8.5} a="middle">0</T>
      <T x={589.5} y={546} s={8.5} a="middle">10</T>
      <T x={597.5} y={536.5} s={8.5} a="middle">0</T>
      <T x={634} y={546} s={8.5} a="middle">10</T>
      <T x={642} y={536.5} s={8.5} a="middle">1</T>
      <T x={679.5} y={546} s={8.5} a="middle">10</T>
      <T x={687.5} y={536.5} s={8.5} a="middle">2</T>
      <Legend items={H_LEGEND} colors={H_COLORS} x1={639} x2={655} tx={661} ys={[566, 577.7, 589.3]} s={8.6} sw={1.3} />
    </g>
  );
};

const PANEL_LETTERS: [string, number, number][] = [
  ['A', 5, 11], ['B', 272.5, 10], ['C', 501.5, 10], ['D', 5, 225], ['E', 275, 225], ['F', 500, 225], ['G', 5, 447], ['H', 475, 450],
];

export default function App() {
  return (
    <svg width={721} height={661} viewBox="0 0 721 661" style={{ position: 'absolute', left: 0, top: 0, display: 'block', background: '#fff' }}>
      <PanelA />
      <PanelB />
      <PanelC />
      <PanelD />
      <PanelE />
      <PanelF />
      <PanelG />
      <PanelH />
      {PANEL_LETTERS.map(([l, x, y]) => <T key={l} x={x} y={y} s={11.5} w={700} fill="#111">{l}</T>)}
    </svg>
  );
}
